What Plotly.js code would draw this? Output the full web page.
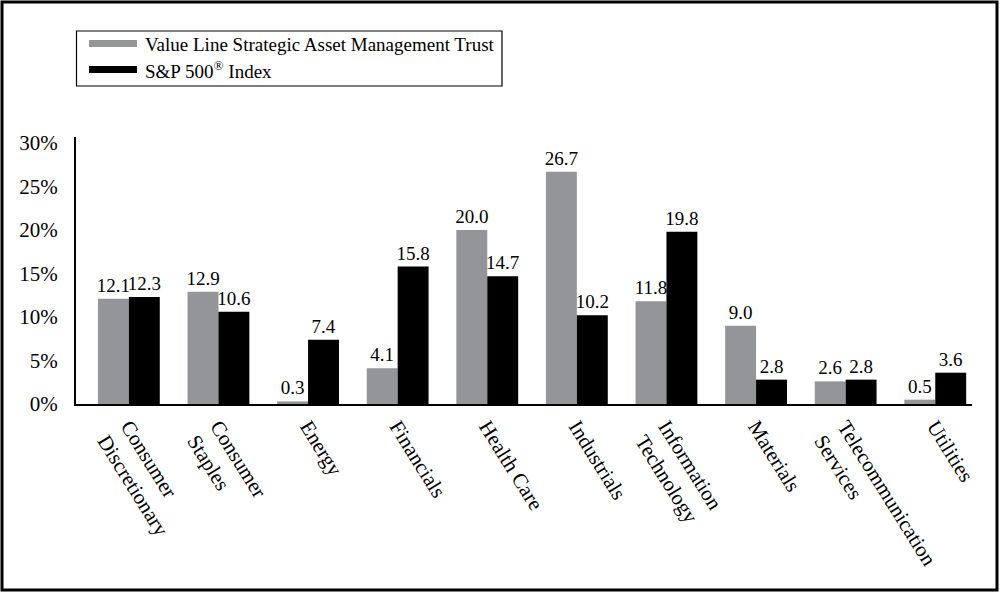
<!DOCTYPE html>
<html>
<head>
<meta charset="utf-8">
<script src="https://cdn.plot.ly/plotly-3.0.1.min.js"></script>
<style>
  html, body { margin: 0; padding: 0; background: #ffffff; }
  #chart { width: 1000px; height: 593px; }
</style>
</head>
<body>
<div id="chart"></div>
<script>
// ---- data ----
const categories = [
  "Consumer<br>Discretionary",
  "Consumer<br>Staples",
  "Energy",
  "Financials",
  "Health Care",
  "Industrials",
  "Information<br>Technology",
  "Materials",
  "Telecommunication<br>Services",
  "Utilities"
];
const fundName = "Value Line Strategic Asset Management Trust";
const indexName = "S&P 500<sup>®</sup> Index";
const fundValues = [12.1, 12.9, 0.3, 4.1, 20.0, 26.7, 11.8, 9.0, 2.6, 0.5];
const indexValues = [12.3, 10.6, 7.4, 15.8, 14.7, 10.2, 19.8, 2.8, 2.8, 3.6];
const yTickValues = [0, 5, 10, 15, 20, 25, 30];
const yTickLabels = ["0%", "5%", "10%", "15%", "20%", "25%", "30%"];

// ---- styles ----
const FONT = "'Liberation Serif', 'Times New Roman', serif";
const GRAY = "#939598";
const BLACK = "#000000";
const xIdx = categories.map((_, i) => i);

const traces = [
  {
    type: "bar", name: fundName, x: xIdx, y: fundValues,
    marker: { color: GRAY },
    text: fundValues.map(v => v.toFixed(1)),
    textposition: "outside", constraintext: "none", cliponaxis: false,
    textfont: { family: FONT, size: 19, color: "#000" },
    hoverinfo: "skip", showlegend: false
  },
  {
    type: "bar", name: indexName, x: xIdx, y: indexValues,
    marker: { color: BLACK },
    text: indexValues.map(v => v.toFixed(1)),
    textposition: "outside", constraintext: "none", cliponaxis: false,
    textfont: { family: FONT, size: 19, color: "#000" },
    hoverinfo: "skip", showlegend: false
  }
];

// paper-coordinate helpers (plot area: x 76..972, y 137..404)
const L = 76, R = 972, T = 137, B = 404;
const px = v => (v - L) / (R - L);
const py = v => (B - v) / (B - T);

const layout = {
  width: 1000, height: 593,
  margin: { l: L, r: 1000 - R, t: T, b: 593 - B },
  paper_bgcolor: "#ffffff", plot_bgcolor: "#ffffff",
  font: { family: FONT, color: "#000", size: 18 },
  barmode: "group", bargap: 0.31, bargroupgap: 0,
  showlegend: false,
  xaxis: {
    range: [-0.59, 9.41],
    tickmode: "array", tickvals: xIdx, ticktext: categories,
    tickangle: 58, ticks: "", showgrid: false, zeroline: false,
    showline: true, linecolor: "#000", linewidth: 2,
    tickfont: { family: FONT, size: 21, color: "#000" },
    fixedrange: true
  },
  yaxis: {
    range: [0, 30.7],
    tickmode: "array", tickvals: yTickValues, ticktext: yTickLabels,
    ticks: "", ticklabelstandoff: 12, showgrid: false, zeroline: false,
    showline: true, linecolor: "#000", linewidth: 2,
    tickfont: { family: FONT, size: 21, color: "#000" },
    fixedrange: true
  },
  shapes: [
    // outer frame
    { type: "rect", xref: "paper", yref: "paper",
      x0: px(2), x1: px(997), y0: py(2), y1: py(590),
      line: { color: "#000", width: 3 }, fillcolor: "rgba(0,0,0,0)", layer: "below" },
    // legend box
    { type: "rect", xref: "paper", yref: "paper",
      x0: px(76.5), x1: px(502), y0: py(31), y1: py(86),
      line: { color: "#000", width: 1.2 }, fillcolor: "rgba(0,0,0,0)" },
    // legend swatches
    { type: "rect", xref: "paper", yref: "paper",
      x0: px(89), x1: px(137), y0: py(40), y1: py(47),
      line: { width: 0 }, fillcolor: GRAY },
    { type: "rect", xref: "paper", yref: "paper",
      x0: px(89), x1: px(137), y0: py(66), y1: py(73),
      line: { width: 0 }, fillcolor: BLACK }
  ],
  annotations: [
    { xref: "paper", yref: "paper", x: px(143), y: py(44), xanchor: "left", yanchor: "middle",
      text: fundName, showarrow: false, font: { family: FONT, size: 19, color: "#000" } },
    { xref: "paper", yref: "paper", x: px(143), y: py(70), xanchor: "left", yanchor: "middle",
      text: indexName, showarrow: false, font: { family: FONT, size: 19, color: "#000" } }
  ]
};

Plotly.newPlot("chart", traces, layout, { displayModeBar: false, staticPlot: true });
</script>
</body>
</html>
